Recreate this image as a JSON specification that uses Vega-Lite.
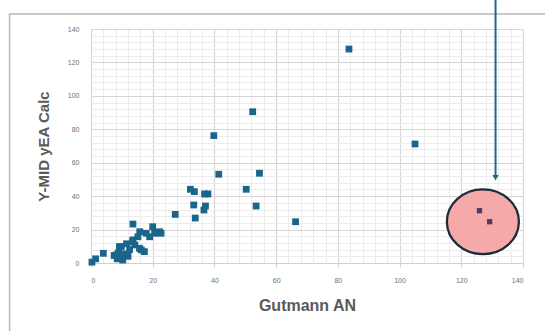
{
  "$schema": "https://vega.github.io/schema/vega-lite/v6.json",
  "width": 432,
  "height": 234,
  "autosize": "none",
  "padding": {"left": 91, "top": 29, "right": 22, "bottom": 68},
  "background": "white",
  "config": {
    "view": {"stroke": null},
    "axis": {"labelFont": "Liberation Sans", "titleFont": "Liberation Sans"}
  },
  "datasets": {
    "points": [
      {"x": 0.3, "y": 0.5, "group": "main"},
      {"x": 1.5, "y": 2.5, "group": "main"},
      {"x": 4.0, "y": 5.8, "group": "main"},
      {"x": 7.5, "y": 4.5, "group": "main"},
      {"x": 8.2, "y": 4.8, "group": "main"},
      {"x": 8.5, "y": 2.5, "group": "main"},
      {"x": 8.8, "y": 6.0, "group": "main"},
      {"x": 9.2, "y": 9.8, "group": "main"},
      {"x": 9.8, "y": 9.8, "group": "main"},
      {"x": 10.3, "y": 1.8, "group": "main"},
      {"x": 10.5, "y": 5.5, "group": "main"},
      {"x": 11.5, "y": 11.5, "group": "main"},
      {"x": 12.0, "y": 4.0, "group": "main"},
      {"x": 12.5, "y": 8.0, "group": "main"},
      {"x": 13.5, "y": 12.7, "group": "main"},
      {"x": 13.6, "y": 13.8, "group": "main"},
      {"x": 14.2, "y": 10.8, "group": "main"},
      {"x": 13.6, "y": 23.3, "group": "main"},
      {"x": 15.2, "y": 15.7, "group": "main"},
      {"x": 15.7, "y": 8.8, "group": "main"},
      {"x": 15.8, "y": 18.7, "group": "main"},
      {"x": 16.3, "y": 7.8, "group": "main"},
      {"x": 17.3, "y": 6.8, "group": "main"},
      {"x": 17.9, "y": 17.8, "group": "main"},
      {"x": 19.0, "y": 15.7, "group": "main"},
      {"x": 20.0, "y": 21.7, "group": "main"},
      {"x": 20.6, "y": 17.8, "group": "main"},
      {"x": 22.2, "y": 18.7, "group": "main"},
      {"x": 22.7, "y": 17.8, "group": "main"},
      {"x": 27.3, "y": 29.1, "group": "main"},
      {"x": 32.2, "y": 44.1, "group": "main"},
      {"x": 33.5, "y": 42.7, "group": "main"},
      {"x": 36.8, "y": 41.3, "group": "main"},
      {"x": 37.9, "y": 41.3, "group": "main"},
      {"x": 33.3, "y": 34.7, "group": "main"},
      {"x": 37.1, "y": 34.1, "group": "main"},
      {"x": 36.6, "y": 31.7, "group": "main"},
      {"x": 33.8, "y": 26.9, "group": "main"},
      {"x": 39.8, "y": 76.2, "group": "main"},
      {"x": 41.4, "y": 53.1, "group": "main"},
      {"x": 50.3, "y": 44.1, "group": "main"},
      {"x": 53.5, "y": 34.1, "group": "main"},
      {"x": 54.6, "y": 53.7, "group": "main"},
      {"x": 52.4, "y": 90.5, "group": "main"},
      {"x": 66.3, "y": 24.7, "group": "main"},
      {"x": 83.6, "y": 128.0, "group": "main"},
      {"x": 105.0, "y": 71.2, "group": "main"},
      {"x": 125.9, "y": 31.3, "group": "flag"},
      {"x": 129.2, "y": 24.7, "group": "flag"}
    ]
  },
  "resolve": {"axis": {"x": "independent", "y": "independent"}},
  "layer": [
    {
      "description": "outer frame of the chart card",
      "data": {"values": [{"x1": -26.4, "x2": 170, "y1": 149, "y2": -60}]},
      "mark": {"type": "rect", "fill": null, "stroke": "#b8b8b8", "strokeWidth": 1.5},
      "encoding": {
        "x": {"field": "x1", "type": "quantitative", "scale": {"domain": [0, 140], "nice": false}, "axis": null},
        "x2": {"field": "x2"},
        "y": {"field": "y1", "type": "quantitative", "scale": {"domain": [0, 140], "nice": false}, "axis": null},
        "y2": {"field": "y2"}
      }
    },
    {
      "description": "minor gridlines",
      "data": {"name": "points"},
      "mark": {"type": "point", "opacity": 0},
      "encoding": {
        "x": {"field": "x", "type": "quantitative",
          "axis": {"orient": "bottom", "values": [4,8,12,16,24,28,32,36,44,48,52,56,64,68,72,76,84,88,92,96,104,108,112,116,124,128,132,136],
            "grid": true, "gridColor": "#ececec", "gridWidth": 1, "labels": false, "ticks": false, "domain": false, "title": null}},
        "y": {"field": "y", "type": "quantitative",
          "axis": {"orient": "left", "values": [4,8,12,16,24,28,32,36,44,48,52,56,64,68,72,76,84,88,92,96,104,108,112,116,124,128,132,136],
            "grid": true, "gridColor": "#ececec", "gridWidth": 1, "labels": false, "ticks": false, "domain": false, "title": null}}
      }
    },
    {
      "description": "major gridlines, labels and titles",
      "data": {"name": "points"},
      "mark": {"type": "point", "opacity": 0},
      "encoding": {
        "x": {"field": "x", "type": "quantitative",
          "axis": {"orient": "bottom", "values": [0,20,40,60,80,100,120,140], "grid": true, "gridColor": "#d6d6d6", "gridWidth": 1.2,
            "domain": true, "domainColor": "#cfcfcf", "ticks": true, "tickColor": "#cfcfcf", "tickSize": 4,
            "labelFontSize": 7, "labelColor": "#707070", "labelPadding": 9,
            "title": "Gutmann AN", "titleFontSize": 16, "titleFontWeight": "bold", "titleColor": "#5a5a5a", "titlePadding": 14}},
        "y": {"field": "y", "type": "quantitative",
          "axis": {"orient": "left", "values": [0,20,40,60,80,100,120,140], "grid": true, "gridColor": "#d6d6d6", "gridWidth": 1.2,
            "domain": false, "ticks": false,
            "labelFontSize": 7, "labelColor": "#707070", "labelPadding": 12,
            "title": "Y-MID yEA Calc", "titleFontSize": 15, "titleFontWeight": "bold", "titleColor": "#5a5a5a", "titlePadding": 16}}
      }
    },
    {
      "description": "highlight ellipse around the flagged pair",
      "data": {"values": [{"x": 127.0, "y": 24.7}]},
      "mark": {"type": "point", "filled": true, "fill": "#f6a9a9", "fillOpacity": 1, "stroke": "#1c2b3a", "strokeWidth": 2.3,
        "shape": "M-1,0 A1,0.9 0 1,1 1,0 A1,0.9 0 1,1 -1,0 Z", "size": 5184},
      "encoding": {
        "x": {"field": "x", "type": "quantitative", "axis": null},
        "y": {"field": "y", "type": "quantitative", "axis": null}
      }
    },
    {
      "description": "data points",
      "data": {"name": "points"},
      "mark": {"type": "point", "filled": true, "shape": "square", "opacity": 1},
      "encoding": {
        "x": {"field": "x", "type": "quantitative", "axis": null},
        "y": {"field": "y", "type": "quantitative", "axis": null},
        "color": {"field": "group", "type": "nominal", "scale": {"domain": ["main", "flag"], "range": ["#1a6589", "#4d3b5e"]}, "legend": null},
        "size": {"field": "group", "type": "nominal", "scale": {"domain": ["main", "flag"], "range": [46, 28]}, "legend": null}
      }
    },
    {
      "description": "pointer arrow shaft",
      "data": {"values": [{"x": 131.1, "y": 160, "y2": 52}]},
      "mark": {"type": "rule", "color": "#1f6a8a", "strokeWidth": 2},
      "encoding": {
        "x": {"field": "x", "type": "quantitative", "axis": null},
        "y": {"field": "y", "type": "quantitative", "axis": null},
        "y2": {"field": "y2"}
      }
    },
    {
      "description": "pointer arrow head",
      "data": {"values": [{"x": 131.1, "y": 51}]},
      "mark": {"type": "point", "filled": true, "shape": "triangle-down", "size": 40, "color": "#1f6a8a", "opacity": 1},
      "encoding": {
        "x": {"field": "x", "type": "quantitative", "axis": null},
        "y": {"field": "y", "type": "quantitative", "axis": null}
      }
    }
  ]
}
